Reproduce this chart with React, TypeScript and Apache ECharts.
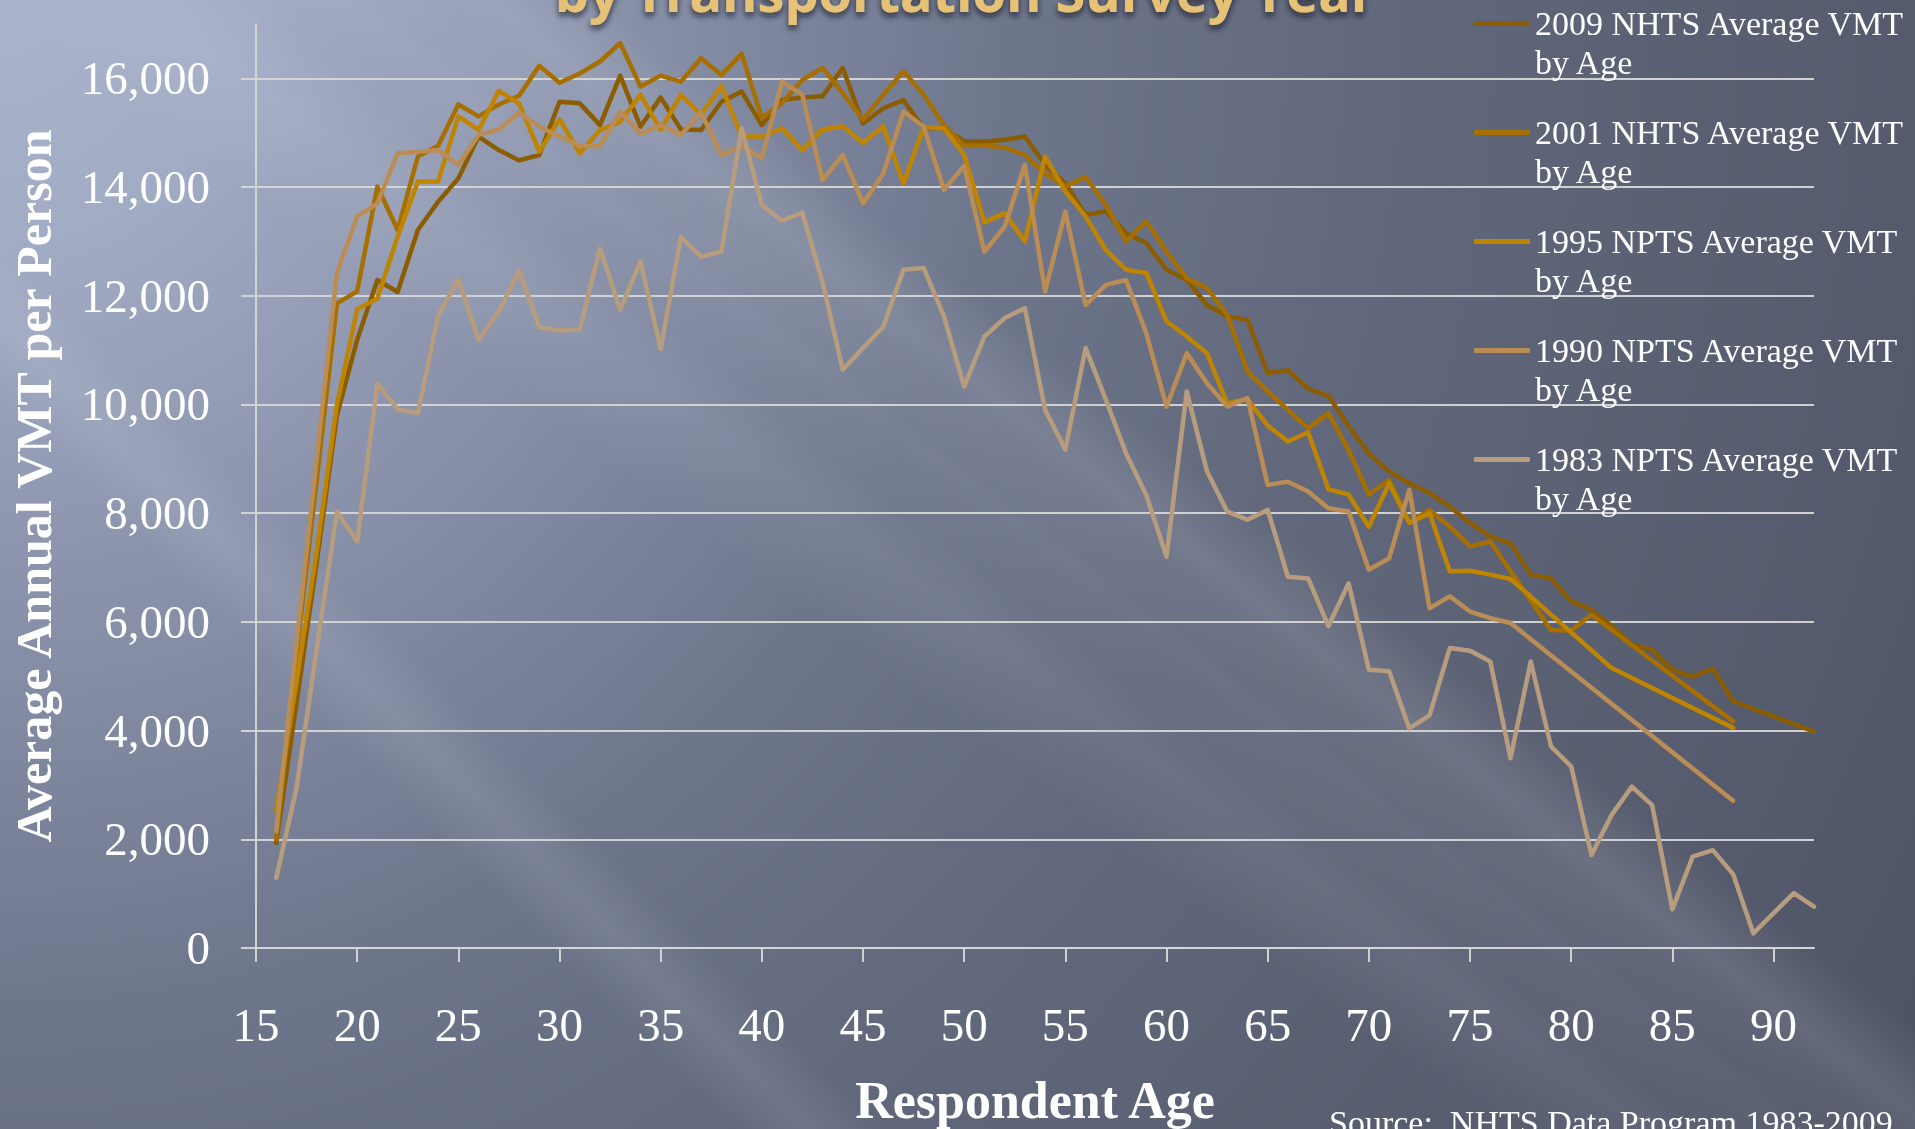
import React, { useEffect, useRef } from 'react';
import * as echarts from 'echarts';

// Respondent age (years), one entry per survey age bucket.
const AGES = [
  16, 17, 18, 19, 20, 21, 22, 23, 24, 25, 26, 27, 28, 29, 30, 31, 32, 33, 34, 35,
  36, 37, 38, 39, 40, 41, 42, 43, 44, 45, 46, 47, 48, 49, 50, 51, 52, 53, 54, 55,
  56, 57, 58, 59, 60, 61, 62, 63, 64, 65, 66, 67, 68, 69, 70, 71, 72, 73, 74, 75,
  76, 77, 78, 79, 80, 81, 82, 83, 84, 85, 86, 87, 88, 89, 90, 91, 92,
];

// Average annual vehicle miles travelled per person, by age (null = no value for that age).
const VMT_2009 = [
  1930, 4500, 7100, 9800, 11190, 12290, 12070, 13210, 13730, 14160, 14930, 14680, 14490, 14590, 15570, 15540, 15140, 16050, 15110, 15650,
  15060, 15050, 15570, 15760, 15140, 15600, 15650, 15670, 16190, 15170, 15450, 15600, 15080, 15080, 14840, 14840, 14870, 14930, 14410, 14070,
  13490, 13550, 13150, 12970, 12480, 12290, 11830, 11620, 11560, 10580, 10630, 10290, 10160, 9600, 9100, 8770, 8550, 8370, 8120, 7820,
  7570, 7450, 6870, 6800, 6380, 6220, 5930, 5580, 5490, 5120, 4990, 5140, 4540, null, null, null, 3980,
];
const VMT_2001 = [
  2000, 5400, 8600, 11860, 12080, 14010, 13210, 14560, 14760, 15520, 15300, 15520, 15680, 16230, 15920, 16090, 16310, 16650, 15850, 16050,
  15940, 16370, 16060, 16450, 15270, 15550, 15970, 16190, 15730, 15240, 15700, 16130, 15700, 15140, 14760, 14760, 14730, 14590, 14250, 14010,
  14190, 13670, 13000, 13370, 12810, 12320, 12140, 11650, 10610, 10240, 9900, 9560, 9840, 9160, 8340, 8610, 7830, 8060, 7750, 7390,
  7480, null, null, 5850, 5840, 6130, null, null, null, null, null, null, 4170, null, null, null, null,
];
const VMT_1995 = [
  2520, 4900, 7300, 10000, 11750, 11950, 13090, 14100, 14100, 15300, 15050, 15770, 15540, 14650, 15250, 14620, 15050, 15200, 15700, 15050,
  15700, 15330, 15860, 14930, 14930, 15080, 14680, 15060, 15120, 14810, 15120, 14060, 15100, 15080, 14590, 13350, 13520, 13000, 14560, 13920,
  13460, 12840, 12480, 12420, 11530, 11250, 10940, 10020, 10100, 9610, 9320, 9490, 8440, 8340, 7750, 8550, 7820, 8000, 6930, 6940,
  6870, 6790, null, null, null, null, 5150, null, null, null, null, null, 4050, null, null, null, null,
];
const VMT_1990 = [
  2150, 5600, 9000, 12420, 13460, 13700, 14620, 14650, 14680, 14410, 14960, 15060, 15370, 15110, 14930, 14760, 14750, 15390, 14980, 15140,
  14960, 15370, 14590, 14750, 14530, 15940, 15700, 14130, 14590, 13700, 14250, 15390, 15110, 13950, 14390, 12810, 13270, 14410, 12080, 13550,
  11830, 12200, 12290, 11310, 9960, 10940, 10390, 9960, 10120, 8520, 8580, 8400, 8090, 8030, 6960, 7170, 8430, 6250, 6470, 6190,
  6070, 5980, null, null, null, null, null, null, null, null, null, null, 2710, null, null, null, null,
];
const VMT_1983 = [
  1290, 2940, 5500, 8030, 7480, 10380, 9910, 9840, 11630, 12300, 11190, 11710, 12460, 11420, 11360, 11380, 12870, 11740, 12630, 11020,
  13080, 12720, 12810, 15080, 13670, 13380, 13530, 12250, 10640, 11040, 11430, 12480, 12510, 11620, 10330, 11250, 11590, 11770, 9900, 9170,
  11040, 10090, 9100, 8330, 7200, 10240, 8770, 8030, 7880, 8060, 6830, 6800, 5920, 6710, 5120, 5090, 4040, 4280, 5520, 5470,
  5270, 3490, 5270, 3710, 3340, 1710, 2450, 2970, 2630, 710, 1680, 1800, 1360, 270, 640, 1010, 760,
];

const SERIES_NAMES = [
  '2009 NHTS Average VMT by Age',
  '2001 NHTS Average VMT by Age',
  '1995 NPTS Average VMT by Age',
  '1990 NPTS Average VMT by Age',
  '1983 NPTS Average VMT by Age',
];
const SERIES_VALUES = [VMT_2009, VMT_2001, VMT_1995, VMT_1990, VMT_1983];
const SERIES_COLORS = ['#8B5D00', '#A66F00', '#BF8400', '#B98D55', '#B89C7E'];

const X_TICKS = [15, 20, 25, 30, 35, 40, 45, 50, 55, 60, 65, 70, 75, 80, 85, 90];
const Y_TICKS = [0, 2000, 4000, 6000, 8000, 10000, 12000, 14000, 16000];

const TITLE_TEXT = 'by Transportation Survey Year';
const SOURCE_TEXT = 'Source:  NHTS Data Program 1983-2009';

const SERIF = "'Liberation Serif', 'DejaVu Serif', serif";
const RULE_COLOR = 'rgba(214, 214, 214, 0.95)';

// Soft diagonal light streak across the backdrop.
function lightBeam(cx: number, cy: number, slope: number, halfWidth: number, alpha: number) {
  const len = Math.hypot(1, slope);
  const dx = 1 / len;
  const dy = slope / len;
  const nx = -dy;
  const ny = dx;
  const pt = (t: number, s: number) => [cx + dx * t + nx * s, cy + dy * t + ny * s];
  return {
    type: 'polygon',
    z: -9,
    silent: true,
    shape: {
      points: [pt(-3000, -halfWidth), pt(3000, -halfWidth), pt(3000, halfWidth), pt(-3000, halfWidth)],
    },
    style: {
      fill: new echarts.graphic.LinearGradient(
        cx - nx * halfWidth,
        cy - ny * halfWidth,
        cx + nx * halfWidth,
        cy + ny * halfWidth,
        [
          { offset: 0, color: 'rgba(255,255,255,0)' },
          { offset: 0.5, color: `rgba(235,240,255,${alpha})` },
          { offset: 1, color: 'rgba(255,255,255,0)' },
        ],
        true
      ),
    },
  };
}

export default function App() {
  const ref = useRef<HTMLDivElement>(null);

  useEffect(() => {
    if (!ref.current) return;
    const chart = echarts.init(ref.current, null, { renderer: 'svg' });

    const series = SERIES_NAMES.map((name, i) => ({
      name,
      type: 'line',
      data: AGES.map((age, k) => [age, SERIES_VALUES[i][k]]).filter((d) => d[1] !== null),
      showSymbol: false,
      symbol: 'none',
      lineStyle: { width: 4.5, color: SERIES_COLORS[i], cap: 'round', join: 'round' },
      itemStyle: { color: SERIES_COLORS[i] },
      emphasis: { disabled: true },
      z: 3,
    }));

    const option = {
      animation: false,
      graphic: [
        {
          type: 'rect',
          z: -10,
          silent: true,
          shape: { x: 0, y: 0, width: 1915, height: 1129 },
          style: {
            fill: new echarts.graphic.RadialGradient(
              0,
              0,
              2250,
              [
                { offset: 0, color: '#a9b3cb' },
                { offset: 0.11, color: '#a1abc3' },
                { offset: 0.23, color: '#8f98b0' },
                { offset: 0.45, color: '#6e768c' },
                { offset: 0.6, color: '#62697c' },
                { offset: 0.85, color: '#555b6d' },
                { offset: 1, color: '#4c5162' },
              ],
              true
            ),
          },
        },
        lightBeam(960, 370, 0.78, 70, 0.13),
        lightBeam(1220, 680, 0.78, 60, 0.08),
        lightBeam(460, 780, 1.0, 55, 0.1),
        lightBeam(300, 120, 0.75, 90, 0.08),
        {
          type: 'text',
          z: 10,
          silent: true,
          x: 965,
          y: -9,
          style: {
            text: TITLE_TEXT,
            fill: '#E6C277',
            font: "bold 54px 'Open Sans', 'Lato', sans-serif",
            align: 'center',
            verticalAlign: 'middle',
            textShadowColor: 'rgba(20,20,30,0.7)',
            textShadowBlur: 6,
            textShadowOffsetY: 4,
          },
        },
        {
          type: 'text',
          z: 10,
          silent: true,
          x: 1329,
          y: 1122,
          style: {
            text: SOURCE_TEXT,
            fill: '#ffffff',
            font: `34px ${SERIF}`,
            align: 'left',
            verticalAlign: 'middle',
          },
        },
      ],
      grid: {
        left: 256,
        right: 101,
        top: 24,
        bottom: 181,
        containLabel: false,
        outerBoundsMode: 'none',
      },
      legend: {
        orient: 'vertical',
        left: 1474,
        top: -35,
        padding: 0,
        itemGap: -8,
        icon: 'roundRect',
        itemWidth: 56,
        itemHeight: 5,
        selectedMode: false,
        data: SERIES_NAMES,
        formatter: (name: string) => '\n' + name.replace(' by Age', '\nby Age'),
        textStyle: {
          color: '#ffffff',
          fontFamily: SERIF,
          fontSize: 34,
          lineHeight: 39,
        },
      },
      xAxis: {
        type: 'value',
        min: 15,
        max: 92,
        name: 'Respondent Age',
        nameLocation: 'middle',
        nameGap: 126,
        nameMoveOverlap: false,
        nameTextStyle: { color: '#ffffff', fontFamily: SERIF, fontSize: 52, fontWeight: 'bold' },
        axisLine: { show: true, onZero: false, lineStyle: { color: RULE_COLOR, width: 2 } },
        axisTick: { show: true, length: 14, customValues: X_TICKS, lineStyle: { color: RULE_COLOR, width: 2 } },
        axisLabel: {
          customValues: X_TICKS,
          color: '#ffffff',
          fontFamily: SERIF,
          fontSize: 47,
          margin: 53,
        },
        splitLine: { show: false },
      },
      yAxis: {
        type: 'value',
        min: 0,
        max: 17000,
        name: 'Average Annual VMT per Person',
        nameLocation: 'middle',
        nameRotate: 90,
        nameGap: 197,
        nameMoveOverlap: false,
        nameTextStyle: { color: '#ffffff', fontFamily: SERIF, fontSize: 50, fontWeight: 'bold' },
        axisLine: { show: true, lineStyle: { color: RULE_COLOR, width: 2 } },
        axisTick: { show: true, length: 15, customValues: Y_TICKS, lineStyle: { color: RULE_COLOR, width: 2 } },
        axisLabel: {
          customValues: Y_TICKS,
          color: '#ffffff',
          fontFamily: SERIF,
          fontSize: 47,
          margin: 46,
          formatter: (v: number) => v.toLocaleString('en-US'),
        },
        splitLine: { show: true, lineStyle: { color: RULE_COLOR, width: 2 } },
      },
      series,
    };

    chart.setOption(option as any);
    return () => chart.dispose();
  }, []);

  return (
    <div
      ref={ref}
      style={{ position: 'fixed', left: 0, top: 0, width: 1915, height: 1129, overflow: 'hidden' }}
    />
  );
}
